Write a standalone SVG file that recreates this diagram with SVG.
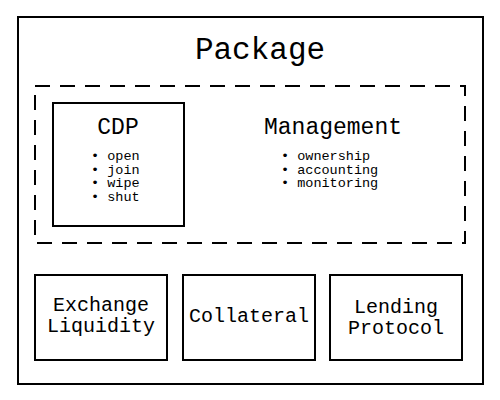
<svg xmlns="http://www.w3.org/2000/svg" width="500" height="400" viewBox="0 0 500 400">
<style>
text{font-family:"Liberation Mono","DejaVu Sans Mono",monospace;fill:#000}
.box{fill:#fff;stroke:#000;stroke-width:2}
.dash{fill:none;stroke:#000;stroke-width:2;stroke-dasharray:15 10}
.title{font-size:31px;text-anchor:middle}
.h{font-size:23px;text-anchor:middle}
.li{font-size:13.5px}
.lbl{font-size:20px;text-anchor:middle}
</style>
<rect width="500" height="400" fill="#fff"/>
<g id="package">
<rect class="box" x="18" y="17" width="465" height="367"/>
<text class="title" x="260" y="59">Package</text>
</g>
<g id="group">
<rect class="dash" x="35" y="86" width="430" height="157"/>
</g>
<g id="cdp">
<rect class="box" x="53" y="103" width="131" height="123"/>
<text class="h" x="118" y="134">CDP</text>
<text class="li" x="91" y="160">• open</text>
<text class="li" x="91" y="173.5">• join</text>
<text class="li" x="91" y="187">• wipe</text>
<text class="li" x="91" y="200.5">• shut</text>
</g>
<g id="management">
<text class="h" x="333" y="134">Management</text>
<text class="li" x="281" y="160">• ownership</text>
<text class="li" x="281" y="173.5">• accounting</text>
<text class="li" x="281" y="187">• monitoring</text>
</g>
<g id="exchange">
<rect class="box" x="35" y="275" width="132" height="85"/>
<text class="lbl" x="101" y="311">Exchange</text>
<text class="lbl" x="101" y="332">Liquidity</text>
</g>
<g id="collateral">
<rect class="box" x="183" y="275" width="132" height="85"/>
<text class="lbl" x="249" y="322">Collateral</text>
</g>
<g id="lending">
<rect class="box" x="330" y="275" width="132" height="85"/>
<text class="lbl" x="396" y="313">Lending</text>
<text class="lbl" x="396" y="334">Protocol</text>
</g>
<g id="connectors"></g>
</svg>
